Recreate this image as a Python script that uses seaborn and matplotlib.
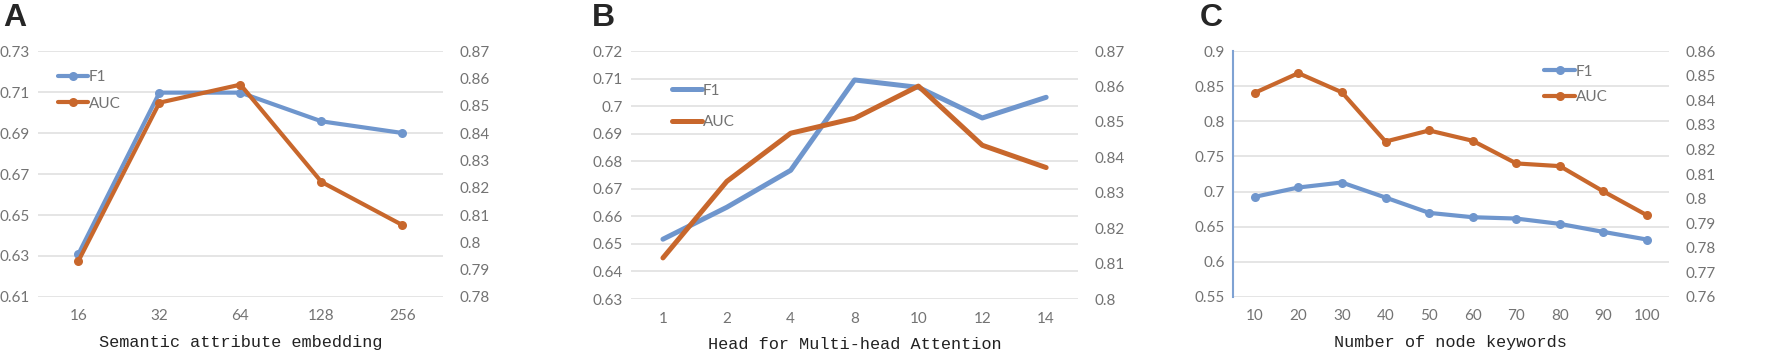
import pandas as pd
import numpy as np
from matplotlib import pyplot as plt
from matplotlib.lines import Line2D
import seaborn as sns

# --- dane ---
emb_kat = ['16', '32', '64', '128', '256']
emb_f1 = [0.631, 0.7097, 0.7097, 0.6957, 0.690]
emb_auc = [0.7932, 0.8511, 0.8577, 0.8221, 0.8063]

head_kat = ['1', '2', '4', '8', '10', '12', '14']
head_f1 = [0.6517, 0.6633, 0.6767, 0.7095, 0.7068, 0.6957, 0.7032]
head_auc = [0.8116, 0.8332, 0.8468, 0.8510, 0.8601, 0.8434, 0.8371]

kw_kat = ['10', '20', '30', '40', '50', '60', '70', '80', '90', '100']
kw_f1 = [0.6925, 0.7058, 0.7129, 0.6915, 0.6697, 0.6635, 0.6616, 0.6540, 0.6426, 0.6317]
kw_auc = [0.8430, 0.8510, 0.8432, 0.8232, 0.8277, 0.8235, 0.8143, 0.8132, 0.8029, 0.7932]

NIEB = '#6F96CD'
POM = '#C8672C'
SZARY = '#737373'
TICK_FONT = ['Liberation Sans Narrow', 'Lato', 'DejaVu Sans']

sns.set_style('white')
plt.rcParams['font.family'] = ['Liberation Sans', 'DejaVu Sans']

fig = plt.figure(figsize=(17.72, 3.58), dpi=100)

panele = [
    dict(lit='A', kat=emb_kat, f1=emb_f1, auc=emb_auc, pos=[0.0214, 0.1704, 0.2286, 0.6871],
         ylim1=(0.61, 0.73), yt1=np.arange(0.61, 0.7301, 0.02), fmt1='{:.2f}',
         ylim2=(0.78, 0.87), yt2=np.arange(0.78, 0.8701, 0.01), fmt2='{:g}',
         marker='o', lw=3.0, xlabel='Semantic attribute embedding',
         leg=(0.015, 0.977), ls=0.8, lit_x=0.002),
    dict(lit='B', kat=head_kat, f1=head_f1, auc=head_auc, pos=[0.3561, 0.1648, 0.2523, 0.6927],
         ylim1=(0.63, 0.72), yt1=np.arange(0.63, 0.7201, 0.01), fmt1='{:g}',
         ylim2=(0.80, 0.87), yt2=np.arange(0.80, 0.8701, 0.01), fmt2='{:g}',
         marker=None, lw=3.6, xlabel='Head for Multi-head Attention',
         leg=(0.06, 0.924), ls=1.15, lit_x=0.334),
    dict(lit='C', kat=kw_kat, f1=kw_f1, auc=kw_auc, pos=[0.6958, 0.1704, 0.2460, 0.6871],
         ylim1=(0.55, 0.90), yt1=np.arange(0.55, 0.9001, 0.05), fmt1='{:g}',
         ylim2=(0.76, 0.86), yt2=np.arange(0.76, 0.8601, 0.01), fmt2='{:g}',
         marker='o', lw=3.0, xlabel='Number of node keywords',
         leg=(0.683, 1.0), ls=0.75, lit_x=0.677),
]

for p in panele:
    ax = fig.add_axes(p['pos'])
    ax2 = ax.twinx()
    df = pd.DataFrame({'kat': p['kat'], 'F1': p['f1'], 'AUC': p['auc']})
    mk = dict(marker=p['marker'], markersize=6.5, markeredgewidth=0) if p['marker'] else {}
    sns.lineplot(data=df, x='kat', y='F1', ax=ax, color=NIEB, lw=p['lw'], sort=False, **mk)
    sns.lineplot(data=df, x='kat', y='AUC', ax=ax2, color=POM, lw=p['lw'], sort=False, **mk)

    n = len(p['kat'])
    ax.set_xlim(-0.5, n - 0.5)
    ax.set_ylim(*p['ylim1'])
    ax2.set_ylim(*p['ylim2'])
    ax.set_yticks(p['yt1'])
    ax.set_yticklabels([p['fmt1'].format(round(v, 2)) for v in p['yt1']])
    ax2.set_yticks(p['yt2'])
    ax2.set_yticklabels([p['fmt2'].format(round(v, 2)) for v in p['yt2']])
    ax.grid(axis='y', color='#E3E3E3', lw=1.3)
    ax.set_axisbelow(True)
    for a in (ax, ax2):
        for s in a.spines.values():
            s.set_visible(False)
        a.tick_params(length=0, labelsize=11, labelcolor=SZARY, pad=8)
        for t in a.get_xticklabels() + a.get_yticklabels():
            t.set_family(TICK_FONT)
        a.set_ylabel('')
    ax.tick_params(axis='y', pad=6)
    ax2.tick_params(axis='y', pad=12)
    ax.tick_params(axis='x', pad=9)
    if p['lit'] == 'C':
        ax.spines['left'].set_visible(True)
        ax.spines['left'].set_color('#7FA2D3')
        ax.spines['left'].set_linewidth(1.5)
    ax.set_xlabel(p['xlabel'], family=['Liberation Mono', 'DejaVu Sans Mono'],
                  fontsize=12.2, color='#222222', labelpad=8.5)

    uch = [Line2D([], [], color=NIEB, lw=p['lw'], **mk),
           Line2D([], [], color=POM, lw=p['lw'], **mk)]
    leg = ax.legend(uch, ['F1', 'AUC'], loc='upper left', bbox_to_anchor=p['leg'],
                    frameon=False, handlelength=2.0, handletextpad=0.05,
                    labelspacing=p['ls'], prop={'family': TICK_FONT, 'size': 11})
    for t in leg.get_texts():
        t.set_color(SZARY)

    fig.text(p['lit_x'], 0.95, p['lit'], fontsize=23, fontweight='bold',
             va='center', ha='left')

fig.savefig('out.png', dpi=100)
